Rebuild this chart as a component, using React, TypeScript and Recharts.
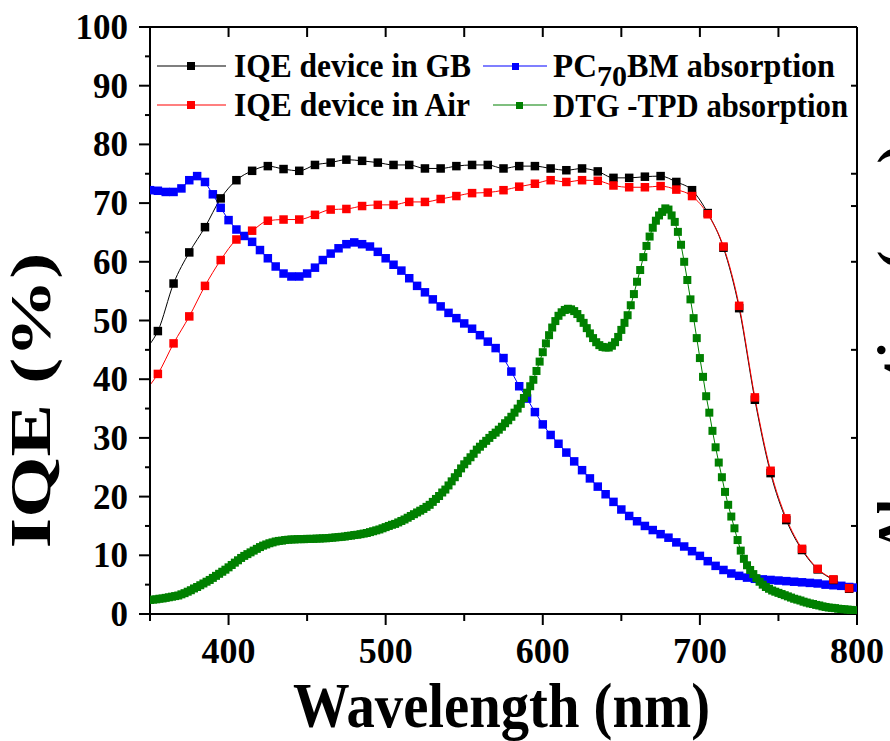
import React from 'react';
import { LineChart, Line, XAxis, YAxis, Legend, Label } from 'recharts';

const FONT = '"Liberation Serif", "Times New Roman", Times, serif';

// ---- data ----
const iqeWavelengths = [350, 355, 365, 375, 385, 395, 405, 415, 425, 435, 445, 455, 465, 475, 485, 495, 505, 515, 525, 535, 545, 555, 565, 575, 585, 595, 605, 615, 625, 635, 645, 655, 665, 675, 685, 695, 705, 715, 725, 735, 745, 755, 765, 775, 785, 795];
const iqeGB = [46.0, 48.2, 56.3, 61.6, 65.9, 70.8, 73.9, 75.5, 76.3, 75.8, 75.5, 76.5, 76.9, 77.4, 77.2, 76.9, 76.5, 76.5, 75.9, 75.9, 76.3, 76.5, 76.5, 75.9, 76.3, 76.3, 75.9, 75.6, 75.9, 75.4, 74.3, 74.3, 74.5, 74.6, 73.6, 72.2, 68.3, 62.4, 52.1, 36.5, 24.0, 16.0, 10.9, 7.6, 5.8, 4.3];
const iqeAir = [39.0, 40.9, 46.1, 50.7, 55.9, 60.3, 63.8, 65.3, 67.0, 67.2, 67.2, 68.0, 68.9, 69.0, 69.5, 69.7, 69.7, 70.2, 70.2, 70.7, 71.2, 71.7, 71.8, 72.2, 72.8, 73.3, 73.9, 73.6, 73.9, 73.8, 73.0, 72.7, 72.7, 72.9, 72.3, 71.2, 68.1, 62.6, 52.5, 36.9, 24.4, 16.3, 11.1, 7.7, 5.9, 4.4];
const iqeNoMarkerAt = 350;

const pcStart = 350;
const pcStep = 5;
const pc70bm = [
  72.2, 72.1, 71.9, 71.9, 72.5, 73.9, 74.6, 73.6, 71.5, 69.2,
  67.1, 65.5, 64.4, 63.4, 62.0, 60.6, 59.2, 58.0, 57.5, 57.5,
  58.0, 59.0, 60.3, 61.4, 62.3, 63.0, 63.3, 63.0, 62.6, 61.7,
  60.6, 59.5, 58.5, 57.2, 55.9, 54.8, 53.6, 52.4, 51.3, 50.4,
  49.5, 48.6, 47.5, 46.4, 45.3, 43.6, 41.3, 38.8, 36.7, 34.4,
  32.3, 30.5, 29.0, 27.5, 26.0, 24.5, 23.1, 21.7, 20.4, 19.1,
  17.8, 16.7, 15.8, 15.0, 14.3, 13.6, 13.0, 12.2, 11.5, 10.7,
  9.9, 9.0, 8.2, 7.5, 6.9, 6.5, 6.2, 6.0, 5.9, 5.8,
  5.7, 5.6, 5.5, 5.4, 5.3, 5.2, 5.0, 4.9, 4.8, 4.6, 4.5,
];

const dtgStart = 350;
const dtgStep = 2;
const dtgTpd = [
  2.4, 2.45, 2.5, 2.6, 2.65, 2.75, 2.85, 2.95, 3.05, 3.15,
  3.35, 3.55, 3.8, 4.05, 4.35, 4.6, 4.9, 5.2, 5.5, 5.8,
  6.15, 6.5, 6.85, 7.2, 7.55, 7.95, 8.35, 8.75, 9.15, 9.55,
  9.9, 10.2, 10.5, 10.8, 11.1, 11.4, 11.65, 11.85, 12.05, 12.2,
  12.35, 12.45, 12.5, 12.6, 12.65, 12.7, 12.7, 12.75, 12.75, 12.75,
  12.8, 12.8, 12.8, 12.85, 12.85, 12.9, 12.9, 12.95, 13.0, 13.05,
  13.1, 13.15, 13.2, 13.3, 13.35, 13.45, 13.5, 13.6, 13.7, 13.8,
  13.95, 14.1, 14.25, 14.4, 14.6, 14.8, 15.0, 15.2, 15.35, 15.6,
  15.85, 16.1, 16.4, 16.7, 17.0, 17.3, 17.6, 17.9, 18.25, 18.6,
  19.1, 19.6, 20.1, 20.7, 21.2, 21.9, 22.6, 23.3, 24.0, 24.8,
  25.5, 26.1, 26.7, 27.3, 28.0, 28.5, 29.0, 29.5, 30.0, 30.5,
  30.9, 31.4, 31.9, 32.5, 33.0, 33.6, 34.3, 35.0, 35.8, 36.8,
  37.7, 38.8, 39.9, 41.4, 43.0, 44.6, 46.1, 47.5, 48.8, 49.9,
  50.8, 51.4, 51.8, 52.0, 51.9, 51.6, 51.1, 50.4, 49.6, 48.7,
  47.8, 47.0, 46.3, 45.8, 45.5, 45.4, 45.4, 45.7, 46.3, 47.2,
  48.4, 49.6, 50.9, 52.6, 54.5, 56.6, 58.6, 60.8, 62.7, 64.3,
  65.8, 67.0, 67.9, 68.5, 69.1, 68.9, 67.9, 66.8, 65.1, 62.9,
  60.0, 56.9, 53.6, 50.4, 47.0, 43.6, 40.4, 37.1, 34.3, 31.2,
  28.4, 25.8, 23.3, 20.8, 18.6, 16.6, 14.6, 12.6, 10.8, 9.4,
  8.3, 7.5, 6.8, 6.1, 5.5, 5.0, 4.6, 4.3, 4.0, 3.8,
  3.6, 3.4, 3.2, 3.0, 2.8, 2.6, 2.45, 2.3, 2.1, 1.95,
  1.8, 1.7, 1.55, 1.45, 1.3, 1.2, 1.1, 1.05, 1.0, 0.9,
  0.85, 0.8, 0.75, 0.7, 0.65, 0.6,
];

const xTicks = [350, 400, 450, 500, 550, 600, 650, 700, 750, 800];
const yTicks = [0, 5, 10, 15, 20, 25, 30, 35, 40, 45, 50, 55, 60, 65, 70, 75, 80, 85, 90, 95, 100];
const rightTicks = [15, 30, 45, 60, 69.5, 75, 90];

const xTitle = 'Wavelength (nm)';
const yTitle = 'IQE (%)';
const rightTitle = 'Absorption (a.u.)';

// ---- derived tables ----
const gbData = iqeWavelengths.map((w, i) => ({ w, v: iqeGB[i] }));
const airData = iqeWavelengths.map((w, i) => ({ w, v: iqeAir[i] }));
const pcData = pc70bm.map((v, i) => ({ w: pcStart + i * pcStep, v }));
const dtgData = dtgTpd.map((v, i) => ({ w: dtgStart + i * dtgStep, v }));

const squareDot = (size: number, fill: string, skipW?: number) => (props: any) => {
  const { cx, cy, index, payload } = props;
  if (cx == null || cy == null || (skipW != null && payload && payload.w === skipW)) {
    return <g key={`e-${index}`} />;
  }
  return <rect key={`d-${index}`} x={cx - size / 2} y={cy - size / 2} width={size} height={size} fill={fill} />;
};

const BottomTick = (props: any) => {
  const { x, y, payload } = props;
  const v = payload.value;
  const major = v % 100 === 0;
  return (
    <g>
      <line x1={x} x2={x} y1={y} y2={y + (major ? 11 : 7)} stroke="#000" strokeWidth={2} />
      {major && (
        <text x={x} y={y + 49} textAnchor="middle" fontSize={36} fontWeight="bold" fontFamily={FONT} fill="#000">
          {v}
        </text>
      )}
    </g>
  );
};

const TopTick = (props: any) => {
  const { x, y } = props;
  return <line x1={x} x2={x} y1={y} y2={y + 10} stroke="#000" strokeWidth={2} />;
};

const LeftTick = (props: any) => {
  const { x, y, payload } = props;
  const v = payload.value;
  const major = v % 10 === 0;
  return (
    <g>
      <line x1={x - (major ? 11 : 5)} x2={x} y1={y} y2={y} stroke="#000" strokeWidth={2} />
      {major && (
        <text x={x - 22} y={y + 12} textAnchor="end" fontSize={35} fontWeight="bold" fontFamily={FONT} fill="#000">
          {v}
        </text>
      )}
    </g>
  );
};

const RightTick = (props: any) => {
  const { x, y } = props;
  return <line x1={x - 6} x2={x} y1={y} y2={y} stroke="#000" strokeWidth={2} />;
};

const XTitle = (props: any) => {
  const vb = props.viewBox || { x: 150, y: 614, width: 707, height: 127 };
  const cx = vb.x + vb.width / 2 - 2;
  return (
    <text x={cx} y={vb.y + 113} textAnchor="middle" fontSize={63} fontWeight="bold" fontFamily={FONT} fill="#000"
      textLength={417} lengthAdjust="spacingAndGlyphs">
      {xTitle}
    </text>
  );
};

const YTitle = (props: any) => {
  const vb = props.viewBox || { x: 0, y: 27, width: 150, height: 587 };
  const bx = vb.x + 50;
  const cy = vb.y + vb.height / 2 + 80;
  return (
    <text x={bx} y={cy} transform={`rotate(-90, ${bx}, ${cy})`} textAnchor="middle" fontSize={56} fontWeight="bold"
      fontFamily={FONT} fill="#000" textLength={296} lengthAdjust="spacingAndGlyphs">
      {yTitle}
    </text>
  );
};

const RightTitle = (props: any) => {
  const vb = props.viewBox || { x: 857, y: 27, width: 1, height: 587 };
  const bx = vb.x + 60;
  const cy = vb.y + vb.height / 2 + 29;
  return (
    <text x={bx} y={cy} transform={`rotate(-90, ${bx}, ${cy})`} textAnchor="middle" fontSize={56} fontWeight="bold"
      fontFamily={FONT} fill="#000">
      {rightTitle}
    </text>
  );
};

const legendText = { fontSize: 33, fontWeight: 'bold' as const, fontFamily: FONT, fill: '#000' };

const LegendContent = () => (
  <svg width={890} height={130} style={{ display: 'block', pointerEvents: 'none' }}>
    <line x1={157} x2={226} y1={66} y2={66} stroke="#000" strokeWidth={1.2} />
    <rect x={187} y={62} width={8} height={8} fill="#000" />
    <text x={234} y={77} {...legendText} textLength={237} lengthAdjust="spacingAndGlyphs">IQE device in GB</text>

    <line x1={157} x2={226} y1={105} y2={105} stroke="#ff0000" strokeWidth={1.2} />
    <rect x={187} y={101} width={8} height={8} fill="#ff0000" />
    <text x={234} y={116} {...legendText} textLength={236} lengthAdjust="spacingAndGlyphs">IQE device in Air</text>

    <line x1={483} x2={547} y1={66} y2={66} stroke="#0000ff" strokeWidth={1.2} />
    <rect x={512} y={63} width={7} height={7} fill="#0000ff" />
    <text x={553} y={77} {...legendText}>
      <tspan textLength={44} lengthAdjust="spacingAndGlyphs">PC</tspan>
      <tspan dy={9} fontSize={30} textLength={30} lengthAdjust="spacingAndGlyphs">70</tspan>
      <tspan dy={-9} textLength={208} lengthAdjust="spacingAndGlyphs">BM absorption</tspan>
    </text>

    <line x1={493} x2={547} y1={105} y2={105} stroke="#008000" strokeWidth={1.2} />
    <rect x={516} y={102} width={7} height={7} fill="#008000" />
    <text x={553} y={117} {...legendText} textLength={295} lengthAdjust="spacingAndGlyphs">DTG -TPD absorption</text>
  </svg>
);

export default function App() {
  return (
    <div style={{ position: 'absolute', left: 0, top: 0, width: 890, height: 741, overflow: 'hidden', background: '#fff' }}>
      <LineChart width={890} height={741} margin={{ top: 26, right: 32, bottom: 0, left: 0 }}>
        <XAxis xAxisId="b" dataKey="w" type="number" domain={[350, 800]} ticks={xTicks} interval={0}
          allowDataOverflow tickSize={0} tickMargin={0} tick={<BottomTick />} height={127}
          axisLine={{ stroke: '#000', strokeWidth: 2 }} tickLine={false}>
          <Label content={<XTitle />} />
        </XAxis>
        <XAxis xAxisId="t" orientation="top" dataKey="w" type="number" domain={[350, 800]} ticks={xTicks} interval={0}
          allowDataOverflow tickSize={0} tickMargin={0} tick={<TopTick />} height={1}
          axisLine={{ stroke: '#000', strokeWidth: 2 }} tickLine={false} />
        <YAxis yAxisId="l" type="number" domain={[0, 100]} ticks={yTicks} interval={0} allowDataOverflow
          tickSize={0} tickMargin={0} tick={<LeftTick />} width={150}
          axisLine={{ stroke: '#000', strokeWidth: 2 }} tickLine={false}>
          <Label content={<YTitle />} />
        </YAxis>
        <YAxis yAxisId="r" orientation="right" type="number" domain={[0, 100]} ticks={rightTicks} interval={0}
          allowDataOverflow tickSize={0} tickMargin={0} tick={<RightTick />} width={1}
          axisLine={{ stroke: '#000', strokeWidth: 2 }} tickLine={false}>
          <Label content={<RightTitle />} />
        </YAxis>
        <Legend layout="horizontal" verticalAlign="middle" align="center" content={<LegendContent />}
          wrapperStyle={{ left: 0, top: 0, width: 890, height: 130, pointerEvents: 'none' }} />

        <Line xAxisId="b" yAxisId="l" data={pcData} dataKey="v" name="PC70BM absorption" type="linear"
          stroke="#0000ff" strokeWidth={1} dot={squareDot(8.5, '#0000ff')} activeDot={false} isAnimationActive={false} />
        <Line xAxisId="b" yAxisId="l" data={dtgData} dataKey="v" name="DTG -TPD absorption" type="linear"
          stroke="#008000" strokeWidth={1} dot={squareDot(8, '#008000')} activeDot={false} isAnimationActive={false} />
        <Line xAxisId="b" yAxisId="l" data={gbData} dataKey="v" name="IQE device in GB" type="monotone"
          stroke="#000" strokeWidth={1} dot={squareDot(8.5, '#000', iqeNoMarkerAt)} activeDot={false} isAnimationActive={false} />
        <Line xAxisId="b" yAxisId="l" data={airData} dataKey="v" name="IQE device in Air" type="monotone"
          stroke="#ff0000" strokeWidth={1} dot={squareDot(8.5, '#ff0000', iqeNoMarkerAt)} activeDot={false} isAnimationActive={false} />
      </LineChart>
    </div>
  );
}
